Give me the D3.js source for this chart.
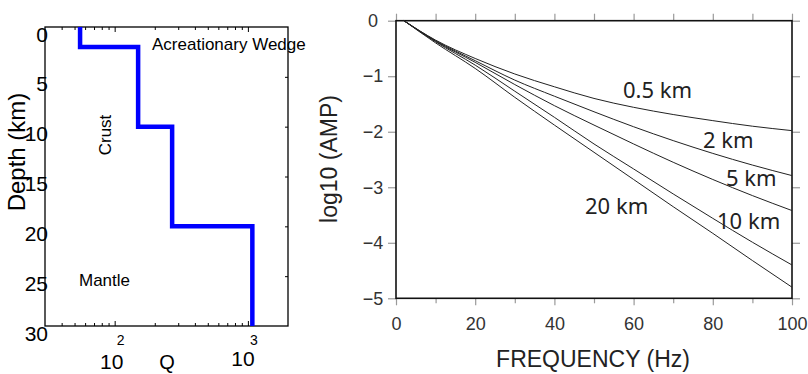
<!DOCTYPE html>
<html>
<head>
<meta charset="utf-8">
<script src="https://cdn.jsdelivr.net/npm/d3@7"></script>
<style>
  body { margin: 0; background: #fff; }
  svg { display: block; }
</style>
</head>
<body>
<div id="chart"></div>
<script>
// left panel: Q model by depth layer
const layerTop = [0, 2, 10, 20];
const layerBottom = [2, 10, 20, 30];
const layerQ = [55, 150, 270, 1080];
const depthTicks = [0, 5, 10, 15, 20, 25, 30];

// right panel: log10 amplitude vs frequency for each depth
const freq = [2, 10, 20, 30, 40, 50, 60, 70, 80, 90, 100];
const amp05 = [0, -0.35, -0.68, -0.96, -1.19, -1.40, -1.56, -1.69, -1.80, -1.90, -1.98];
const amp2 = [0, -0.36, -0.72, -1.07, -1.36, -1.64, -1.91, -2.16, -2.39, -2.60, -2.79];
const amp5 = [0, -0.37, -0.75, -1.15, -1.53, -1.88, -2.22, -2.55, -2.86, -3.15, -3.42];
const amp10 = [0, -0.38, -0.80, -1.27, -1.74, -2.22, -2.67, -3.12, -3.56, -3.99, -4.40];
const amp20 = [0, -0.40, -0.86, -1.38, -1.88, -2.37, -2.86, -3.35, -3.83, -4.32, -4.80];
const curveNames = ['0.5 km', '2 km', '5 km', '10 km', '20 km'];
const freqTicks = [0, 20, 40, 60, 80, 100];
const freqMinor = [10, 30, 50, 70, 90];
const ampTicks = [-5, -4, -3, -2, -1, 0];

const W = 808, H = 374;
const svg = d3.select('#chart').append('svg')
  .attr('width', W).attr('height', H);

const sans = 'Liberation Sans, Arial, sans-serif';

//@left panel
const lx = d3.scaleLog().domain([30, 2000]).range([45, 288]);
const ly = d3.scaleLinear().domain([0, 30]).range([27, 326]);

const left = svg.append('g');

// minor log ticks, bottom (pointing up) and top (pointing down)
const logTicks = lx.ticks().filter(v => v > 30 && v < 2000);
const isMajor = v => Math.abs(Math.log10(v) - Math.round(Math.log10(v))) < 1e-9;

[[326, d3.axisTop], [27, d3.axisBottom]].forEach(([yy, ax]) => {
  left.append('g')
    .attr('transform', `translate(0,${yy})`)
    .call(ax(lx).tickValues(logTicks.filter(v => !isMajor(v))).tickSize(3).tickFormat(''))
    .call(g => g.select('.domain').remove())
    .call(g => g.selectAll('line').attr('stroke', '#000'));
  left.append('g')
    .attr('transform', `translate(0,${yy})`)
    .call(ax(lx).tickValues(logTicks.filter(isMajor)).tickSize(5).tickFormat(''))
    .call(g => g.select('.domain').remove())
    .call(g => g.selectAll('line').attr('stroke', '#000'));
});

// right edge inward ticks
left.append('g')
  .attr('transform', 'translate(288,0)')
  .call(d3.axisLeft(ly).tickValues(depthTicks.slice(1, -1)).tickSize(3).tickFormat(''))
  .call(g => g.select('.domain').remove())
  .call(g => g.selectAll('line').attr('stroke', '#000'));

// depth labels
left.append('g')
  .attr('transform', 'translate(45,0)')
  .call(d3.axisLeft(ly).tickValues(depthTicks).tickSize(0).tickPadding(0))
  .call(g => g.select('.domain').remove())
  .call(g => g.selectAll('text')
    .attr('x', 3).attr('y', 14).attr('dy', null)
    .attr('text-anchor', 'end')
    .attr('font-family', sans).attr('font-size', 21).attr('fill', '#000'));

left.append('rect')
  .attr('x', 45).attr('y', 27).attr('width', 243).attr('height', 299)
  .attr('fill', 'none').attr('stroke', '#000').attr('stroke-width', 1.3);

// step profile
const profile = [];
layerQ.forEach((q, i) => {
  profile.push([q, layerTop[i]]);
  profile.push([q, layerBottom[i]]);
});
left.append('path')
  .datum(profile)
  .attr('d', d3.line().x(d => lx(d[0])).y(d => ly(d[1])))
  .attr('fill', 'none')
  .attr('stroke', '#0000ff')
  .attr('stroke-width', 4.5)
  .attr('stroke-linejoin', 'miter');

// exponent-style x tick labels (rendered broken, as in source)
[[100, '2'], [1000, '3']].forEach(([v, e]) => {
  left.append('text')
    .attr('x', lx(v) + 6).attr('y', 345)
    .attr('text-anchor', 'middle')
    .attr('font-family', sans).attr('font-size', 14)
    .text(e);
});
left.append('text')
  .attr('x', lx(100) - 3).attr('y', 369)
  .attr('text-anchor', 'middle')
  .attr('font-family', sans).attr('font-size', 21)
  .text('10');
left.append('text')
  .attr('x', lx(1000) - 5).attr('y', 366)
  .attr('text-anchor', 'middle')
  .attr('font-family', sans).attr('font-size', 21)
  .text('10');
left.append('text')
  .attr('x', 167).attr('y', 369)
  .attr('text-anchor', 'middle')
  .attr('font-family', sans).attr('font-size', 20)
  .text('Q');

left.append('text')
  .attr('transform', 'translate(25,152) rotate(-90)')
  .attr('text-anchor', 'middle')
  .attr('font-family', sans).attr('font-size', 24)
  .text('Depth (km)');

left.append('text')
  .attr('x', 152).attr('y', 50)
  .attr('font-family', sans).attr('font-size', 17)
  .text('Acreationary Wedge');
left.append('text')
  .attr('transform', 'translate(111,135) rotate(-90)')
  .attr('text-anchor', 'middle')
  .attr('font-family', sans).attr('font-size', 17)
  .text('Crust');
left.append('text')
  .attr('x', 79).attr('y', 286)
  .attr('font-family', sans).attr('font-size', 17)
  .text('Mantle');

//@right panel
const rx = d3.scaleLinear().domain([0, 100]).range([396, 792]);
const ry = d3.scaleLinear().domain([-5, 0]).range([298.3, 20.7]);
const right = svg.append('g');
const tickCol = '#9a9a9a';

function styleAxis(g) {
  g.select('.domain').remove();
  g.selectAll('line').attr('stroke', tickCol).attr('stroke-width', 1.2);
}

right.append('g')
  .attr('transform', 'translate(0,298.3)')
  .call(d3.axisBottom(rx).tickValues(freqTicks).tickSize(7).tickPadding(12))
  .call(styleAxis)
  .call(g => g.selectAll('text')
    .attr('font-family', sans).attr('font-size', 18).attr('fill', '#333'));
right.append('g')
  .attr('transform', 'translate(0,298.3)')
  .call(d3.axisBottom(rx).tickValues(freqMinor).tickSize(5).tickFormat(''))
  .call(styleAxis);
right.append('g')
  .attr('transform', 'translate(0,20.7)')
  .call(d3.axisTop(rx).tickValues(freqTicks.concat(freqMinor)).tickSize(7).tickFormat(''))
  .call(styleAxis);
right.append('g')
  .attr('transform', 'translate(396,0)')
  .call(d3.axisLeft(ry).tickValues(ampTicks).tickSize(8).tickFormat(d3.format('d')))
  .call(styleAxis)
  .call(g => g.selectAll('text')
    .attr('x', -23).attr('text-anchor', 'middle')
    .attr('font-family', sans).attr('font-size', 18).attr('fill', '#333'));
right.append('g')
  .attr('transform', 'translate(792,0)')
  .call(d3.axisRight(ry).tickValues(ampTicks).tickSize(8).tickFormat(''))
  .call(styleAxis);

right.append('rect')
  .attr('x', 396).attr('y', 20.7).attr('width', 396).attr('height', 277.6)
  .attr('fill', 'none').attr('stroke', '#111').attr('stroke-width', 1.6);

const series = [amp05, amp2, amp5, amp10, amp20];
const line = d3.line()
  .x((d, i) => rx(freq[i]))
  .y(d => ry(d))
  .curve(d3.curveMonotoneX);

right.selectAll('.amp')
  .data(series)
  .enter().append('path')
  .attr('class', 'amp')
  .attr('d', line)
  .attr('fill', 'none')
  .attr('stroke', '#222')
  .attr('stroke-width', 1);

// curve labels
const labelPos = [[623, 98], [703, 148], [726, 186], [717, 229], [585, 214]];
right.selectAll('.lab')
  .data(curveNames)
  .enter().append('text')
  .attr('class', 'lab')
  .attr('x', (d, i) => labelPos[i][0])
  .attr('y', (d, i) => labelPos[i][1])
  .attr('font-family', 'Noto Sans, Open Sans, sans-serif')
  .attr('font-size', 22)
  .attr('fill', '#222')
  .text(d => d);

right.append('text')
  .attr('x', 593).attr('y', 367)
  .attr('text-anchor', 'middle')
  .attr('font-family', sans).attr('font-size', 23).attr('fill', '#222')
  .text('FREQUENCY (Hz)');
right.append('text')
  .attr('transform', 'translate(337,159) rotate(-90)')
  .attr('text-anchor', 'middle')
  .attr('font-family', sans).attr('font-size', 23).attr('fill', '#222')
  .text('log10 (AMP)');
</script>
</body>
</html>
